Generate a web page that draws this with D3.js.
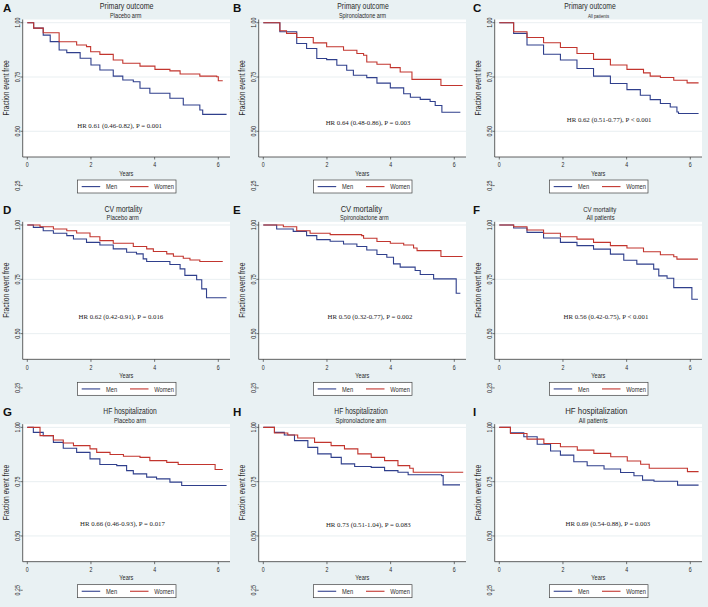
<!DOCTYPE html>
<html><head><meta charset="utf-8">
<script src="https://cdn.jsdelivr.net/npm/d3@7"></script>
<style>
html,body{margin:0;padding:0;background:#e9f1f3;}
svg{display:block;}
</style></head><body>
<svg id="chart" width="708" height="607"></svg>
<script>
// ---------------- data ----------------
const panelLetters = ["A","B","C","D","E","F","G","H","I"];
const outcomeTitles = ["Primary outcome","Primary outcome","Primary outcome",
  "CV mortality","CV mortality","CV mortality",
  "HF hospitalization","HF hospitalization","HF hospitalization"];
const armSubtitles = ["Placebo arm","Spironolactone arm","All patients",
  "Placebo arm","Spironolactone arm","All patients",
  "Placebo arm","Spironolactone arm","All patients"];
const hrLabels = [
  "HR 0.61 (0.46-0.82),  P = 0.001",
  "HR 0.64 (0.48-0.86),  P = 0.003",
  "HR 0.62 (0.51-0.77),  P < 0.001",
  "HR 0.62 (0.42-0.91),  P = 0.016",
  "HR 0.50 (0.32-0.77),  P = 0.002",
  "HR 0.56 (0.42-0.75),  P < 0.001",
  "HR 0.66 (0.46-0.93),  P = 0.017",
  "HR 0.73 (0.51-1.04),  P = 0.083",
  "HR 0.69 (0.54-0.88),  P = 0.003"];
const yTicks = [1.00, 0.75, 0.50, 0.25];
const yGrid = [1.00, 0.75, 0.50];
const xTicks = [0, 2, 4, 6];
const seriesNames = ["Men", "Women"];
const xAxisTitle = "Years";
const yAxisTitle = "Fraction event free";

// Kaplan-Meier curves [years, fraction event free]
const menA = [[0,1],[0.2,0.975],[0.5,0.943],[0.72,0.913],[1.0,0.874],[1.24,0.862],[1.66,0.836],[2.0,0.805],[2.28,0.782],[2.7,0.754],[3.0,0.736],[3.33,0.728],[3.54,0.698],[3.85,0.675],[4.48,0.652],[4.9,0.621],[5.42,0.598],[5.51,0.578],[6.26,0.578]];
const womenA = [[0,1],[0.2,0.975],[0.5,0.954],[1.0,0.912],[1.55,0.897],[1.86,0.89],[1.99,0.866],[2.28,0.854],[2.7,0.828],[3.0,0.813],[3.54,0.80],[4.01,0.785],[4.48,0.778],[4.8,0.764],[5.42,0.754],[5.95,0.751],[6.0,0.733],[6.14,0.733]];
const menB = [[0,1],[0.52,0.958],[1.05,0.904],[1.36,0.881],[1.68,0.835],[1.99,0.830],[2.31,0.804],[2.62,0.781],[2.83,0.758],[3.25,0.747],[3.57,0.722],[3.99,0.70],[4.41,0.673],[4.62,0.657],[4.93,0.647],[5.24,0.637],[5.4,0.619],[5.61,0.588],[6.19,0.588]];
const womenB = [[0,1],[0.52,0.963],[0.73,0.951],[1.05,0.932],[1.57,0.907],[1.99,0.889],[2.52,0.873],[2.94,0.858],[3.15,0.85],[3.25,0.819],[3.57,0.809],[3.99,0.793],[4.3,0.773],[4.67,0.739],[5.58,0.711],[6.26,0.711]];
const menC = [[0,1],[0.45,0.951],[0.87,0.897],[1.39,0.855],[1.92,0.828],[2.44,0.789],[2.96,0.754],[3.49,0.72],[4.01,0.692],[4.43,0.666],[4.74,0.646],[5.06,0.628],[5.37,0.612],[5.58,0.589],[5.63,0.582],[6.26,0.582]];
const womenC = [[0,1],[0.45,0.958],[0.87,0.932],[1.39,0.908],[1.92,0.886],[2.44,0.858],[2.96,0.831],[3.49,0.805],[4.01,0.785],[4.53,0.769],[4.74,0.754],[5.06,0.748],[5.48,0.735],[5.9,0.723],[6.26,0.723]];
const menD = [[0,1],[0.19,0.989],[0.5,0.974],[0.82,0.962],[1.24,0.951],[1.45,0.936],[1.86,0.92],[2.28,0.908],[2.7,0.89],[3.12,0.875],[3.43,0.867],[3.64,0.844],[3.75,0.832],[4.48,0.818],[4.8,0.798],[4.95,0.768],[5.32,0.748],[5.48,0.706],[5.63,0.665],[6.26,0.665]];
const womenD = [[0,1],[0.4,0.992],[0.82,0.982],[1.24,0.974],[1.55,0.963],[1.97,0.946],[2.28,0.928],[2.7,0.916],[3.33,0.901],[3.75,0.89],[3.96,0.878],[4.38,0.867],[4.59,0.856],[4.9,0.847],[5.11,0.839],[5.42,0.832],[6.14,0.832]];
const menE = [[0,1],[0.42,0.982],[0.94,0.971],[1.36,0.951],[1.68,0.933],[2.1,0.925],[2.52,0.913],[2.94,0.901],[3.25,0.885],[3.57,0.864],[3.88,0.852],[4.09,0.821],[4.3,0.806],[4.77,0.791],[4.93,0.772],[5.35,0.752],[6.06,0.686],[6.19,0.686]];
const womenE = [[0,1],[0.63,0.992],[1.05,0.974],[1.47,0.962],[2.1,0.956],[3.09,0.951],[3.15,0.939],[3.57,0.924],[3.99,0.916],[4.41,0.908],[4.72,0.894],[4.83,0.882],[5.58,0.855],[6.26,0.855]];
const menF = [[0,1],[0.45,0.986],[0.87,0.966],[1.39,0.94],[1.92,0.92],[2.44,0.905],[2.96,0.889],[3.49,0.866],[3.91,0.838],[4.32,0.82],[4.85,0.797],[5.01,0.766],[5.27,0.755],[5.48,0.712],[6.05,0.658],[6.24,0.658]];
const womenF = [[0,1],[0.45,0.992],[0.87,0.977],[1.39,0.962],[1.92,0.946],[2.44,0.935],[2.96,0.92],[3.49,0.905],[4.01,0.894],[4.53,0.877],[5.06,0.863],[5.48,0.854],[5.58,0.843],[6.24,0.843]];
const menG = [[0,1],[0.19,0.977],[0.5,0.962],[0.82,0.931],[1.13,0.904],[1.55,0.885],[1.97,0.855],[2.28,0.829],[2.81,0.824],[3.12,0.801],[3.33,0.786],[3.75,0.771],[4.06,0.763],[4.48,0.748],[4.85,0.732],[6.26,0.732]];
const womenG = [[0,1],[0.4,0.962],[0.82,0.942],[1.13,0.928],[1.45,0.916],[1.97,0.901],[2.18,0.885],[2.6,0.875],[3.02,0.867],[3.54,0.862],[3.85,0.847],[4.38,0.839],[4.74,0.829],[5.9,0.806],[6.14,0.806]];
const menH = [[0,1],[0.35,0.977],[0.66,0.965],[0.98,0.939],[1.4,0.908],[1.71,0.878],[2.13,0.862],[2.45,0.832],[2.87,0.82],[3.39,0.816],[3.81,0.801],[4.23,0.793],[4.55,0.782],[5.6,0.778],[5.65,0.735],[6.18,0.735]];
const womenH = [[0,1],[0.35,0.974],[0.77,0.965],[1.08,0.951],[1.61,0.931],[2.13,0.916],[2.55,0.901],[2.97,0.878],[3.39,0.862],[3.81,0.847],[4.23,0.824],[4.6,0.812],[4.71,0.793],[6.28,0.793]];
const menI = [[0,1],[0.35,0.975],[0.77,0.957],[1.19,0.922],[1.61,0.891],[1.92,0.872],[2.34,0.842],[2.76,0.823],[3.29,0.808],[3.81,0.792],[4.23,0.777],[4.5,0.757],[4.86,0.752],[5.6,0.734],[6.26,0.734]];
const womenI = [[0,1],[0.35,0.972],[0.87,0.946],[1.4,0.926],[1.92,0.911],[2.45,0.895],[2.97,0.88],[3.5,0.865],[4.02,0.845],[4.44,0.83],[4.71,0.812],[5.91,0.796],[6.26,0.796]];

const menCurves = [menA, menB, menC, menD, menE, menF, menG, menH, menI];
const womenCurves = [womenA, womenB, womenC, womenD, womenE, womenF, womenG, womenH, womenI];

// ---------------- layout / styles ----------------
const W = 708, H = 607;
const panelW = 236, panelH = 202.33;
const plotL = 22.7, plotR = 230, plotT = 19.5, plotB = 157;
const colors = {bg:"#e9f1f3", men:"#2f3f8c", women:"#c2352e", axis:"#3a3a3a", grid:"#e3ebee"};
const sans = "Arial, 'Liberation Sans', Helvetica, sans-serif";
const squeeze = 0.8; // condensed look of the original sans text
const letterX = [3, -3, 1];
const titleLayout = [ // title centerX, fontSize, subtitle centerX, fontSize
  [126.7,8.9,125.8,7.0],[127,8.5,126.5,6.8],[118,8.5,126.5,5.4],
  [123.3,8.7,122.7,7.2],[125.3,9.5,128.3,7.0],[127.7,7.6,128.5,7.2],
  [130,8.4,130,7.2],[125,8.4,124.8,7.3],[124.3,9.8,121.3,7.4]];
const hrPos = [[2.9,0.517],[3.29,0.529],[3.45,0.545],[2.94,0.566],[3.35,0.566],[3.35,0.566],[2.99,0.545],[3.3,0.54],[3.41,0.545]];

const svg = d3.select("#chart");
svg.append("rect").attr("width", W).attr("height", H).attr("fill", colors.bg);

const x = d3.scaleLinear().domain([0, 6]).range([27.3, 218.3]);
const y = d3.scaleLinear().domain([0.25, 1]).range([185.6, 22.7]);
const line = d3.line().x(d => x(d[0])).y(d => y(d[1])).curve(d3.curveStepAfter);

// condensed sans text helper
function ntext(g, px, py, str, size, anchor, rot) {
  return g.append("text")
    .attr("transform", `translate(${px},${py})${rot ? " rotate(" + rot + ")" : ""} scale(${squeeze},1)`)
    .attr("text-anchor", anchor || "start")
    .attr("font-family", sans).attr("font-size", size).attr("fill", "#2a2a2a").text(str);
}

panelLetters.forEach((letter, i) => {
  const col = i % 3, row = Math.floor(i / 3);
  const g = svg.append("g").attr("transform", `translate(${col * panelW},${row * panelH})`);

  g.append("text").attr("x", letterX[col]).attr("y", 11.5)
    .attr("font-family", sans).attr("font-weight", "bold")
    .attr("font-size", 11.5).attr("fill", "#111").text(letter);

  const tl = titleLayout[i];
  ntext(g, tl[0], 9.4, outcomeTitles[i], tl[1], "middle");
  ntext(g, tl[2], 18, armSubtitles[i], tl[3], "middle");

  // plot region
  g.append("rect").attr("x", plotL).attr("y", plotT).attr("width", plotR - plotL).attr("height", plotB - plotT)
    .attr("fill", "#ffffff");
  g.selectAll(".grid").data(yGrid).enter().append("line")
    .attr("x1", plotL).attr("x2", plotR).attr("y1", d => y(d)).attr("y2", d => y(d))
    .attr("stroke", colors.grid).attr("stroke-width", 0.8);

  // curves
  g.append("path").datum(menCurves[i]).attr("d", line).attr("fill", "none")
    .attr("stroke", colors.men).attr("stroke-width", 1.1);
  g.append("path").datum(womenCurves[i]).attr("d", line).attr("fill", "none")
    .attr("stroke", colors.women).attr("stroke-width", 1.1);

  // axes lines
  g.append("line").attr("x1", plotL).attr("x2", plotL).attr("y1", plotT).attr("y2", plotB)
    .attr("stroke", colors.axis).attr("stroke-width", 0.8);
  g.append("line").attr("x1", plotL).attr("x2", plotR).attr("y1", plotB).attr("y2", plotB)
    .attr("stroke", colors.axis).attr("stroke-width", 0.8);

  // y ticks
  yTicks.forEach(t => {
    g.append("line").attr("x1", plotL - 2.3).attr("x2", plotL).attr("y1", y(t)).attr("y2", y(t))
      .attr("stroke", colors.axis).attr("stroke-width", 0.7);
    ntext(g, plotL - 3.2, y(t), d3.format(".2f")(t), 6.6, "middle", -90);
  });
  // x ticks
  xTicks.forEach(t => {
    g.append("line").attr("x1", x(t)).attr("x2", x(t)).attr("y1", plotB).attr("y2", plotB + 2.5)
      .attr("stroke", colors.axis).attr("stroke-width", 0.7);
    ntext(g, x(t), 167.3, String(t), 6.6, "middle");
  });
  ntext(g, (plotL + plotR) / 2, 175.5, xAxisTitle, 7, "middle");
  ntext(g, 9.4, (y(1) + plotB) / 2 - 2, yAxisTitle, 8.3, "middle", -90);

  // HR annotation
  g.append("text").attr("x", x(hrPos[i][0])).attr("y", y(hrPos[i][1])).attr("text-anchor", "middle")
    .attr("font-family", "'Liberation Serif','Times New Roman',serif").attr("font-size", 6.8)
    .attr("fill", "#222").text(hrLabels[i]);

  // legend
  const lg = g.append("g");
  lg.append("rect").attr("x", 77.5).attr("y", 180).attr("width", 98.5).attr("height", 13)
    .attr("fill", "#fff").attr("stroke", "#444").attr("stroke-width", 0.7);
  const legendColors = [colors.men, colors.women];
  seriesNames.forEach((name, k) => {
    const lx = k === 0 ? 81.7 : 130;
    lg.append("line").attr("x1", lx).attr("x2", lx + 18.5).attr("y1", 186.6).attr("y2", 186.6)
      .attr("stroke", legendColors[k]).attr("stroke-width", 1.1);
    ntext(lg, lx + 24.3, 189.3, name, 7.2, "start");
  });
});
</script>
</body></html>
